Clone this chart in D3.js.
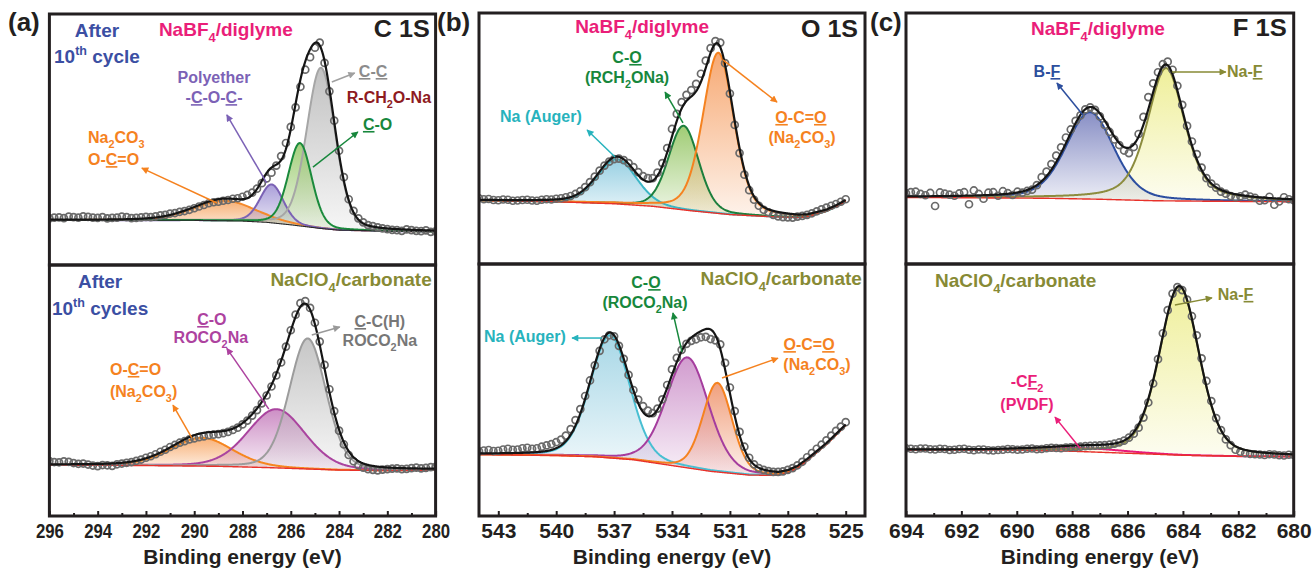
<!DOCTYPE html>
<html>
<head>
<meta charset="utf-8">
<script src="https://cdn.jsdelivr.net/npm/d3@7"></script>
<style>
  html, body { margin: 0; padding: 0; background: #fff; }
  svg { display: block; font-family: "Liberation Sans", Arial, Helvetica, sans-serif; font-weight: bold; }
</style>
</head>
<body>
<svg id="fig" width="1313" height="572"></svg>
<script>
// ---------- measured spectra (intensity in % of panel height) ----------
// C 1s: 296 -> 280 eV, 0.2 eV step
const c1sDiglyme = [
  18.6, 18.9, 19.0, 18.7, 19.3, 19.1, 18.9, 19.4, 19.2, 18.9,
  18.8, 19.1, 18.6, 18.8, 18.9, 19.3, 19.1, 18.7, 18.8, 19.0,
  19.2, 19.1, 19.4, 19.8, 20.0, 20.5, 20.7, 21.2, 21.5, 22.0,
  22.6, 23.3, 23.9, 24.6, 25.0, 25.2, 25.6, 25.9, 26.4, 26.6,
  27.2, 27.9, 28.8, 30.4, 32.6, 34.5, 36.8, 39.6, 43.4, 48.6,
  55.0, 62.8, 71.0, 77.8, 82.8, 86.6, 88.6, 80.5, 69.2, 57.5,
  45.5, 35.0, 26.2, 21.6, 18.6, 17.0, 15.9, 15.5, 15.0, 14.6,
  14.3, 14.0, 13.9, 13.6, 14.2, 13.9, 13.6, 13.5, 13.8, 13.2,
  13.4];
const c1sCarbonate = [
  21.9, 21.5, 21.4, 21.8, 21.6, 21.1, 20.8, 20.9, 20.5, 20.1,
  19.9, 20.3, 20.2, 20.0, 20.6, 20.9, 21.2, 21.5, 22.0, 22.5,
  23.2, 23.8, 24.6, 25.6, 26.4, 27.5, 28.3, 29.2, 29.8, 30.5,
  30.9, 31.4, 31.7, 32.2, 32.4, 32.6, 33.0, 33.5, 34.3, 35.2,
  36.5, 38.0, 40.0, 42.2, 44.9, 48.0, 51.6, 56.0, 61.2, 67.5,
  74.0, 80.2, 84.8, 85.6, 82.9, 77.0, 69.5, 60.2, 50.5, 41.8,
  34.0, 28.5, 24.3, 21.8, 20.2, 19.3, 18.7, 18.4, 18.2, 18.5,
  18.7, 18.9, 19.0, 18.7, 18.8, 19.1, 19.3, 19.0, 19.2, 19.5,
  19.6];
const c1sEnergy = d3.range(c1sDiglyme.length).map(i => 296 - 0.2 * i);

// O 1s: 544 -> 525 eV, 0.25 eV step
const o1sDiglyme = [
  26.2, 25.8, 25.9, 25.5, 25.4, 25.7, 25.6, 25.2, 25.3, 25.5,
  25.6, 25.3, 25.2, 25.6, 25.8, 25.7, 26.0, 26.2, 26.6, 27.1,
  27.9, 29.0, 30.6, 32.6, 34.8, 37.2, 39.2, 40.8, 41.8, 42.0,
  41.4, 40.2, 38.6, 36.6, 35.0, 34.2, 34.2, 36.4, 40.2, 46.2,
  53.8, 59.8, 64.5, 67.4, 69.3, 71.8, 75.8, 81.0, 86.0, 88.8,
  88.2, 80.0, 67.9, 55.4, 44.2, 35.6, 29.4, 25.6, 23.2, 21.6,
  20.6, 19.6, 19.0, 18.7, 18.6, 18.5, 18.9, 19.2, 19.6, 20.2,
  21.0, 21.8, 22.5, 23.2, 23.9, 24.8, 25.8];
const o1sCarbonate = [
  25.8, 26.1, 26.3, 25.9, 26.0, 26.5, 26.8, 26.4, 26.5, 27.0,
  27.2, 26.8, 27.0, 27.6, 28.1, 28.6, 29.4, 30.4, 32.0, 34.6,
  38.2, 42.6, 47.8, 54.0, 60.0, 65.8, 70.4, 72.0, 71.6, 67.8,
  62.6, 56.2, 50.2, 46.4, 43.8, 42.0, 41.0, 42.8, 46.5, 52.2,
  58.4, 63.0, 66.2, 68.6, 69.8, 70.4, 71.2, 71.4, 70.5, 70.0,
  68.4, 61.0, 51.2, 41.8, 33.5, 27.6, 23.2, 20.6, 19.1, 18.4,
  17.9, 17.6, 17.6, 17.8, 18.4, 19.1, 20.2, 21.6, 23.4, 25.1,
  26.8, 28.4, 30.1, 32.0, 33.9, 35.6, 37.4];
const o1sEnergy = d3.range(o1sDiglyme.length).map(i => 544 - 0.25 * i);

// F 1s: 694 -> 680 eV, 0.175 eV step
const f1sDiglyme = [
  28.2, 28.6, 28.8, 27.9, 27.4, 28.3, 23.1, 28.5, 28.0, 27.6,
  27.2, 28.1, 28.6, 23.8, 29.3, 27.9, 26.0, 28.4, 28.6, 27.2,
  29.0, 28.2, 27.5, 28.8, 28.4, 29.1, 29.6, 31.4, 34.6, 36.8,
  39.8, 43.2, 46.5, 50.4, 53.6, 57.0, 59.2, 61.6, 62.4, 61.4,
  58.8, 55.4, 52.6, 49.6, 47.4, 45.2, 44.2, 46.6, 51.8, 58.6,
  66.5, 72.0, 76.4, 79.6, 80.6, 77.4, 71.0, 63.4, 55.0, 48.8,
  43.8, 38.4, 34.2, 32.0, 30.4, 28.8, 28.0, 27.1, 26.6, 27.0,
  27.6, 26.9, 26.4, 25.2, 25.4, 26.8, 23.6, 24.9, 26.6, 25.8,
  25.4];
const f1sCarbonate = [
  27.0, 26.8, 26.6, 26.9, 26.9, 26.6, 26.5, 26.8, 26.7, 26.3,
  26.4, 26.7, 26.8, 26.4, 26.2, 26.5, 26.5, 26.2, 26.1, 26.3,
  26.4, 26.7, 26.6, 26.4, 26.5, 26.8, 26.9, 26.6, 26.7, 27.0,
  27.2, 27.1, 27.0, 27.3, 27.4, 27.4, 27.6, 27.8, 27.9, 28.0,
  28.1, 28.2, 28.4, 28.8, 29.3, 30.0, 31.2, 32.8, 35.2, 39.2,
  45.2, 52.8, 62.5, 72.8, 82.0, 88.6, 91.2, 90.0, 86.2, 79.6,
  72.0, 62.8, 53.8, 45.8, 39.0, 34.2, 30.5, 28.2, 26.4, 25.6,
  25.0, 24.7, 24.6, 24.5, 24.3, 24.6, 24.5, 24.2, 24.1, 24.4,
  24.3];
const f1sEnergy = d3.range(f1sDiglyme.length).map(i => 694 - 0.175 * i);

// ---------- fitted backgrounds: [binding energy, intensity] ----------
const c1sDiglymeBaseline = [[296, 17.9], [290, 17.8], [288, 17.5], [287, 17.0], [286, 16.0], [285.4, 15.3],
  [284.8, 14.6], [284, 13.9], [282, 13.5], [280, 13.3]];
const c1sCarbonateBaseline = [[296, 20.3], [292, 20.1], [289, 19.8], [287, 19.3], [285.5, 18.8], [284, 18.3],
  [282, 18.1], [280, 18.3]];
const o1sDiglymeBaseline = [[544, 25.3], [540, 24.8], [537, 24.0], [535, 23.0], [533, 21.2], [531, 19.7],
  [529, 18.9], [527.5, 18.5], [527, 18.8], [526, 21.0], [525.5, 22.8], [525, 25.0]];
const o1sCarbonateBaseline = [[544, 24.5], [540, 24.1], [538, 23.6], [536, 22.4], [534, 20.1], [532, 17.8],
  [530, 16.3], [528.5, 16.2], [528, 17.2], [527.5, 19.0], [527, 22.0], [526, 28.5], [525, 36.0]];
const f1sDiglymeBaseline = [[694, 26.5], [689, 26.2], [687, 25.8], [685, 25.2], [683, 25.0], [680, 24.8]];
const f1sCarbonateBaseline = [[694, 26.4], [690, 26.2], [688, 25.8], [686, 25.0], [684, 24.2], [682, 23.8], [680, 23.7]];

// ---------- fitted components (pseudo-Voigt: center eV, FWHM eV, height, Lorentz fraction) ----------
const c1sDiglymePeaks = [
  { name: "O-C=O",      center: 288.75, fwhm: 3.0,  height: 8.0,  mix: 0.2 },
  { name: "polyether",  center: 286.79, fwhm: 1.15, height: 15.3, mix: 0.2 },
  { name: "C-C",        center: 284.75, fwhm: 1.4,  height: 64,   mix: 0.2 },
  { name: "C-O",        center: 285.62, fwhm: 1.15, height: 33,   mix: 0.2 }
];
const c1sCarbonatePeaks = [
  { name: "O-C=O",      center: 289.69, fwhm: 3.0,  height: 11.3, mix: 0.2 },
  { name: "C-O",        center: 286.59, fwhm: 2.8,  height: 23.4, mix: 0.2 },
  { name: "C-C(H)",     center: 285.3,  fwhm: 1.8,  height: 52,   mix: 0.2 }
];
const o1sDiglymePeaks = [
  { name: "Na Auger",   center: 536.85, fwhm: 2.4,  height: 17.8, mix: 0.2 },
  { name: "C-O",        center: 533.4,  fwhm: 1.85, height: 33.5, mix: 0.2 },
  { name: "O-C=O",      center: 531.6,  fwhm: 1.9,  height: 64,   mix: 0.3 }
];
const o1sCarbonatePeaks = [
  { name: "Na Auger",   center: 537.21, fwhm: 2.42, height: 48.9, mix: 0.2 },
  { name: "C-O",        center: 533.2,  fwhm: 2.6,  height: 44,   mix: 0.2 },
  { name: "O-C=O",      center: 531.65, fwhm: 1.8,  height: 35.5, mix: 0.2 }
];
const f1sDiglymePeaks = [
  { name: "B-F",        center: 687.36, fwhm: 2.05, height: 34.6, mix: 0.3 },
  { name: "Na-F",       center: 684.61, fwhm: 1.6,  height: 52.9, mix: 0.5 }
];
const f1sCarbonatePeaks = [
  { name: "CF2",        center: 687.5,  fwhm: 3.5,  height: 1.4,  mix: 0.3 },
  { name: "Na-F",       center: 684.13, fwhm: 1.7,  height: 67.2, mix: 0.3 }
];

// ---------- axis tick values ----------
const c1sTicks = [296, 294, 292, 290, 288, 286, 284, 282, 280];
const c1sMinorTicks = [295, 293, 291, 289, 287, 285, 283, 281];
const o1sTicks = [543, 540, 537, 534, 531, 528, 525];
const o1sMinorTicks = [541.5, 538.5, 535.5, 532.5, 529.5, 526.5];
const f1sTicks = [694, 692, 690, 688, 686, 684, 682, 680];
const f1sMinorTicks = [693, 691, 689, 687, 685, 683, 681];

// ---------- colours ----------
const C = {
  blue: "#3b4fa3", pink: "#ea1e79", olive: "#878a35", purple: "#7c62b6", grey: "#8c8c8c",
  grey2: "#777777", darkred: "#8e1b1f", green: "#17873c", orange: "#f5821f", magenta: "#ad429f",
  cyan: "#27b3bd", fblue: "#2d4f9e", ink: "#231f20", red: "#e8312a"
};
const c1sDiglymeLook = [
  { line: "#f58a2c", fill: "#f6a35e" }, { line: "#7b62b5", fill: "#9b8ed2" },
  { line: "#a6a6a6", fill: "#b7b7b7" }, { line: "#1a8a3c", fill: "#94c765" }
];
const c1sCarbonateLook = [
  { line: "#f6861f", fill: "#f7a461" }, { line: "#aa449f", fill: "#c47bbb" }, { line: "#9c9c9c", fill: "#bcbcbc" }
];
const o1sDiglymeLook = [
  { line: "#3cb6c6", fill: "#86c8de" }, { line: "#1d7f3d", fill: "#8fc35c" }, { line: "#f58220", fill: "#f59a5b" }
];
const o1sCarbonateLook = [
  { line: "#48bfd2", fill: "#98d0e2" }, { line: "#a53d9e", fill: "#c98ac6" }, { line: "#f58220", fill: "#ee8f66" }
];
const f1sDiglymeLook = [{ line: "#2c4ea0", fill: "#737bbb" }, { line: "#8c8c3e", fill: "#ecec88" }];
const f1sCarbonateLook = [{ line: "#e8197a", fill: null }, { line: "#8c8c3e", fill: "#ecec88" }];

// ---------- annotations, placed in data units of their panel ----------
const c1sDiglymeNotes = [
  { E: 294.03, v: 90.8, text: "After", color: C.blue, anchor: "middle", size: 19 },
  { E: 294.03, v: 80.5, text: "10^{th} cycle", color: C.blue, anchor: "middle", size: 19 },
  { E: 288.69, v: 91.2, text: "NaBF_4/diglyme", color: C.pink, anchor: "middle", size: 19 },
  { E: 280.24, v: 90.8, text: "C 1S", color: C.ink, anchor: "end", size: 23, fit: 56 },
  { E: 289.18, v: 72.5, text: "Polyether", color: C.purple, anchor: "middle" },
  { E: 289.18, v: 64.5, text: "-~C~-O-~C~-", color: C.purple, anchor: "middle" },
  { E: 283.18, v: 74.9, text: "~C~-~C~", color: C.grey },
  { E: 283.68, v: 64.5, text: "R-CH_2O-Na", color: C.darkred },
  { E: 283.01, v: 53.8, text: "~C~-O", color: C.green },
  { E: 294.40, v: 48.6, text: "Na_2CO_3", color: C.orange },
  { E: 294.40, v: 39.8, text: "O-~C~=O", color: C.orange }
];
const c1sDiglymeArrows = [
  { from: [287.0, 32.7], to: [288.65, 59.8], color: C.purple },
  { from: [284.30, 72.9], to: [283.35, 76.5], color: "#a0a0a0" },
  { from: [285.08, 39.0], to: [283.22, 53.0], color: C.green },
  { from: [289.06, 24.7], to: [292.17, 38.6], color: C.orange }
];
const c1sCarbonateNotes = [
  { E: 293.90, v: 90.8, text: "After", color: C.blue, anchor: "middle", size: 19 },
  { E: 293.90, v: 80.1, text: "10^{th} cycles", color: C.blue, anchor: "middle", size: 19 },
  { E: 280.16, v: 91.6, text: "NaClO_4/carbonate", color: C.olive, anchor: "end", size: 19 },
  { E: 289.27, v: 76.1, text: "~C~-O", color: C.magenta, anchor: "middle" },
  { E: 289.31, v: 68.9, text: "ROCO_2Na", color: C.magenta, anchor: "middle" },
  { E: 282.31, v: 75.3, text: "~C~-C(H)", color: C.grey2, anchor: "middle" },
  { E: 282.31, v: 67.7, text: "ROCO_2Na", color: C.grey2, anchor: "middle" },
  { E: 293.49, v: 56.2, text: "O-~C~=O", color: C.orange },
  { E: 293.49, v: 47.4, text: "(Na_2CO_3)", color: C.orange }
];
const c1sCarbonateArrows = [
  { from: [286.91, 42.6], to: [288.65, 66.8], color: C.magenta },
  { from: [285.13, 72.1], to: [283.97, 75.3], color: "#999999" },
  { from: [290.10, 31.1], to: [290.88, 44.2], color: C.orange }
];
const o1sDiglymeNotes = [
  { E: 535.55, v: 92.0, text: "NaBF_4/diglyme", color: C.pink, anchor: "middle", size: 19 },
  { E: 524.36, v: 90.4, text: "O 1S", color: C.ink, anchor: "end", size: 23, fit: 57 },
  { E: 536.33, v: 80.1, text: "C-~O~", color: C.green, anchor: "middle" },
  { E: 536.33, v: 72.1, text: "(RCH_2ONa)", color: C.green, anchor: "middle" },
  { E: 542.91, v: 56.6, text: "Na (Auger)", color: C.cyan },
  { E: 527.32, v: 56.2, text: "~O~-C=~O~", color: C.orange, anchor: "middle" },
  { E: 527.26, v: 48.2, text: "(Na_2CO_3)", color: C.orange, anchor: "middle" }
];
const o1sDiglymeArrows = [
  { from: [533.43, 56.2], to: [534.36, 68.5], color: C.green },
  { from: [536.95, 42.6], to: [538.40, 53.4], color: C.cyan },
  { from: [531.36, 81.3], to: [528.56, 64.5], color: C.orange }
];
const o1sCarbonateNotes = [
  { E: 535.35, v: 90.8, text: "C-~O~", color: C.green, anchor: "middle" },
  { E: 535.40, v: 82.9, text: "(ROCO_2Na)", color: C.green, anchor: "middle" },
  { E: 524.16, v: 92.0, text: "NaClO_4/carbonate", color: C.olive, anchor: "end", size: 19 },
  { E: 543.74, v: 69.3, text: "Na (Auger)", color: C.cyan },
  { E: 526.90, v: 66.1, text: "~O~-C=~O~", color: C.orange, anchor: "middle" },
  { E: 526.49, v: 58.2, text: "(Na_2CO_3)", color: C.orange, anchor: "middle" }
];
const o1sCarbonateArrows = [
  { from: [533.48, 65.3], to: [533.95, 80.9], color: C.green },
  { from: [537.63, 70.9], to: [539.18, 70.9], color: C.cyan },
  { from: [531.41, 55.0], to: [528.51, 62.9], color: C.orange }
];
const f1sDiglymeNotes = [
  { E: 687.07, v: 91.2, text: "NaBF_4/diglyme", color: C.pink, anchor: "middle", size: 19 },
  { E: 680.25, v: 90.8, text: "F 1S", color: C.ink, anchor: "end", size: 23, fit: 54 },
  { E: 688.91, v: 74.5, text: "B-~F~", color: C.fblue, anchor: "middle" },
  { E: 682.41, v: 74.5, text: "Na-~F~", color: C.olive }
];
const f1sDiglymeArrows = [
  { from: [687.61, 59.4], to: [688.55, 72.1], color: C.fblue },
  { from: [684.40, 76.5], to: [682.45, 76.5], color: C.olive }
];
const f1sCarbonateNotes = [
  { E: 692.95, v: 91.2, text: "NaClO_4/carbonate", color: C.olive, size: 19 },
  { E: 682.74, v: 86.1, text: "Na-~F~", color: C.olive },
  { E: 689.63, v: 51.4, text: "-C~F~_2", color: C.pink, anchor: "middle" },
  { E: 689.63, v: 42.2, text: "(PVDF)", color: C.pink, anchor: "middle" }
];
const f1sCarbonateArrows = [
  { from: [684.29, 84.1], to: [682.95, 86.9], color: C.olive },
  { from: [687.72, 27.1], to: [688.62, 39.4], color: C.pink }
];

// ---------- layout ----------
const columns = [
  { x0: 49.4, x1: 435.6, domain: [296, 280], ticks: c1sTicks, minor: c1sMinorTicks, fit: 28, rows: [14, 265, 516], tag: "(a)", tagX: 8 },
  { x0: 479, x1: 865, domain: [544, 524], ticks: o1sTicks, minor: o1sMinorTicks, fit: null, rows: [13, 264, 516], tag: "(b)", tagX: 437 },
  { x0: 906, x1: 1293.7, domain: [694, 680], ticks: f1sTicks, minor: f1sMinorTicks, fit: null, rows: [13, 264, 516], tag: "(c)", tagX: 870 }
];
const panels = [
  { col: 0, row: 0, E: c1sEnergy, I: c1sDiglyme, base: c1sDiglymeBaseline, peaks: c1sDiglymePeaks, look: c1sDiglymeLook,
    baseLine: { color: "#2a2a2a", width: 1.1 }, notes: c1sDiglymeNotes, arrows: c1sDiglymeArrows },
  { col: 0, row: 1, E: c1sEnergy, I: c1sCarbonate, base: c1sCarbonateBaseline, peaks: c1sCarbonatePeaks, look: c1sCarbonateLook,
    baseLine: { color: C.red, width: 1.4 }, notes: c1sCarbonateNotes, arrows: c1sCarbonateArrows },
  { col: 1, row: 0, E: o1sEnergy, I: o1sDiglyme, base: o1sDiglymeBaseline, peaks: o1sDiglymePeaks, look: o1sDiglymeLook,
    baseLine: { color: C.red, width: 1.4 }, notes: o1sDiglymeNotes, arrows: o1sDiglymeArrows },
  { col: 1, row: 1, E: o1sEnergy, I: o1sCarbonate, base: o1sCarbonateBaseline, peaks: o1sCarbonatePeaks, look: o1sCarbonateLook,
    baseLine: { color: C.red, width: 1.4 }, notes: o1sCarbonateNotes, arrows: o1sCarbonateArrows },
  { col: 2, row: 0, E: f1sEnergy, I: f1sDiglyme, base: f1sDiglymeBaseline, peaks: f1sDiglymePeaks, look: f1sDiglymeLook,
    baseLine: { color: C.red, width: 1.4 }, notes: f1sDiglymeNotes, arrows: f1sDiglymeArrows },
  { col: 2, row: 1, E: f1sEnergy, I: f1sCarbonate, base: f1sCarbonateBaseline, peaks: f1sCarbonatePeaks, look: f1sCarbonateLook,
    baseLine: { color: C.red, width: 1.4 }, notes: f1sCarbonateNotes, arrows: f1sCarbonateArrows }
];

const svg = d3.select("#fig");
const defs = svg.append("defs");

// pseudo-Voigt line shape of one fitted component
function voigt(E, p) {
  const d = (E - p.center) / p.fwhm;
  return p.height * ((1 - p.mix) * Math.exp(-4 * Math.LN2 * d * d) + p.mix / (1 + 4 * d * d));
}

// text with _x subscripts, ^{..} superscripts and ~..~ underlined runs
function parseRich(s) {
  const parts = []; let buf = "", u = false, i = 0;
  const flush = () => { if (buf) { parts.push({ t: buf, u, k: "n" }); buf = ""; } };
  while (i < s.length) {
    const c = s[i];
    if (c === "~") { flush(); u = !u; i++; }
    else if (c === "_") { flush(); parts.push({ t: s[i + 1], u: false, k: "sub" }); i += 2; }
    else if (c === "^") { flush(); const j = s.indexOf("}", i); parts.push({ t: s.slice(i + 2, j), u: false, k: "sup" }); i = j + 1; }
    else { buf += c; i++; }
  }
  flush();
  return parts;
}
function richText(sel, x, y, str, o) {
  const fs = o.size || 16;
  const t = sel.append("text").attr("x", x).attr("y", y).attr("font-size", fs)
    .attr("fill", o.color).attr("text-anchor", o.anchor || "start");
  let shift = 0;
  parseRich(str).forEach(p => {
    const ts = t.append("tspan").text(p.t);
    let target = 0;
    if (p.k === "sub") { ts.attr("font-size", fs * 0.68); target = fs * 0.3; }
    if (p.k === "sup") { ts.attr("font-size", fs * 0.66); target = -fs * 0.42; }
    if (target !== shift) { ts.attr("dy", target - shift); shift = target; }
    if (p.u) ts.style("text-decoration", "underline");
  });
  if (o.fit) t.attr("textLength", o.fit).attr("lengthAdjust", "spacingAndGlyphs");
  return t;
}

const markers = new Set();
function arrowHead(color) {
  const id = "ah" + color.replace("#", "");
  if (!markers.has(id)) {
    defs.append("marker").attr("id", id).attr("viewBox", "0 0 10 10")
      .attr("refX", 9).attr("refY", 5).attr("markerWidth", 8).attr("markerHeight", 7)
      .attr("markerUnits", "userSpaceOnUse").attr("orient", "auto")
      .append("path").attr("d", "M0,0L10,5L0,10Z").attr("fill", color);
    markers.add(id);
  }
  return `url(#${id})`;
}

panels.forEach((p, pi) => {
  const col = columns[p.col];
  const top = col.rows[p.row], bottom = col.rows[p.row + 1];
  const x = d3.scaleLinear().domain(col.domain).range([col.x0, col.x1]);
  const y = d3.scaleLinear().domain([0, (bottom - top) / 2.51]).range([bottom, top]);
  const baseAt = d3.scaleLinear().domain(p.base.map(d => d[0])).range(p.base.map(d => d[1])).clamp(true);

  const clipId = "clip" + pi;
  defs.append("clipPath").attr("id", clipId).append("rect")
    .attr("x", col.x0).attr("y", top).attr("width", col.x1 - col.x0).attr("height", bottom - top);
  const g = svg.append("g").attr("clip-path", `url(#${clipId})`);

  const eHi = p.E[0], eLo = p.E[p.E.length - 1];
  const grid = d3.range(601).map(i => eHi + (eLo - eHi) * i / 600);

  // component fills
  p.peaks.forEach((pk, ci) => {
    const look = p.look[ci];
    if (!look.fill) return;
    const gid = `grad${pi}_${ci}`;
    const grad = defs.append("linearGradient").attr("id", gid).attr("x1", 0).attr("y1", 0).attr("x2", 0).attr("y2", 1);
    grad.append("stop").attr("offset", "0%").attr("stop-color", look.fill).attr("stop-opacity", 0.85);
    grad.append("stop").attr("offset", "100%").attr("stop-color", look.fill).attr("stop-opacity", 0.12);
    const area = d3.area()
      .x(e => x(e)).y0(e => y(baseAt(e))).y1(e => y(baseAt(e) + voigt(e, pk)));
    g.append("path").datum(grid).attr("d", area).attr("fill", `url(#${gid})`);
  });

  // component outlines
  p.peaks.forEach((pk, ci) => {
    const line = d3.line().x(e => x(e)).y(e => y(baseAt(e) + voigt(e, pk)));
    g.append("path").datum(grid).attr("d", line).attr("fill", "none")
      .attr("stroke", p.look[ci].line).attr("stroke-width", 2);
  });

  // background
  g.append("path").datum(grid)
    .attr("d", d3.line().x(e => x(e)).y(e => y(baseAt(e))))
    .attr("fill", "none").attr("stroke", p.baseLine.color).attr("stroke-width", p.baseLine.width);

  // measured points
  g.append("g").selectAll("circle").data(p.E.map((e, i) => [e, p.I[i]])).join("circle")
    .attr("cx", d => x(d[0])).attr("cy", d => y(d[1])).attr("r", 3.5)
    .attr("fill", "none").attr("stroke", "#6a6a6a").attr("stroke-width", 1.7);

  // envelope = background + all components
  const env = d3.line().x(e => x(e)).y(e => y(baseAt(e) + d3.sum(p.peaks, pk => voigt(e, pk))));
  g.append("path").datum(grid).attr("d", env).attr("fill", "none")
    .attr("stroke", "#151515").attr("stroke-width", 2.2);

  // arrows and labels
  const ann = svg.append("g");
  p.arrows.forEach(a => {
    ann.append("line")
      .attr("x1", x(a.from[0])).attr("y1", y(a.from[1]))
      .attr("x2", x(a.to[0])).attr("y2", y(a.to[1]))
      .attr("stroke", a.color).attr("stroke-width", 1.5)
      .attr("marker-end", arrowHead(a.color));
  });
  p.notes.forEach(n => richText(ann, x(n.E), y(n.v), n.text, n));

  // frame
  svg.append("rect").attr("x", col.x0).attr("y", top)
    .attr("width", col.x1 - col.x0).attr("height", bottom - top)
    .attr("fill", "none").attr("stroke", C.ink).attr("stroke-width", 3);

  // bottom axis with inward ticks
  if (p.row === 1) {
    const ax = svg.append("g").attr("transform", `translate(0,${bottom})`)
      .call(d3.axisBottom(x).tickValues(col.ticks).tickFormat(d3.format("d"))
        .tickSizeInner(-5).tickSizeOuter(0).tickPadding(7));
    ax.select(".domain").remove();
    ax.selectAll("line").attr("stroke", C.ink).attr("stroke-width", 2);
    const lbl = ax.selectAll("text").attr("font-size", 21).attr("font-weight", "bold")
      .attr("font-family", "Liberation Sans, Arial, sans-serif").attr("fill", C.ink);
    if (col.fit) lbl.attr("textLength", col.fit).attr("lengthAdjust", "spacingAndGlyphs");
    const mn = svg.append("g").attr("transform", `translate(0,${bottom})`)
      .call(d3.axisBottom(x).tickValues(col.minor).tickFormat("").tickSizeInner(-3).tickSizeOuter(0));
    mn.select(".domain").remove();
    mn.selectAll("line").attr("stroke", C.ink).attr("stroke-width", 2);

    svg.append("text").attr("x", (col.x0 + col.x1) / 2).attr("y", 564)
      .attr("text-anchor", "middle").attr("font-size", 21).attr("fill", C.ink)
      .text("Binding energy (eV)");
  } else {
    svg.append("text").attr("x", col.tagX).attr("y", 31).attr("font-size", 26).attr("fill", C.ink).text(col.tag);
  }
});
</script>
</body>
</html>
